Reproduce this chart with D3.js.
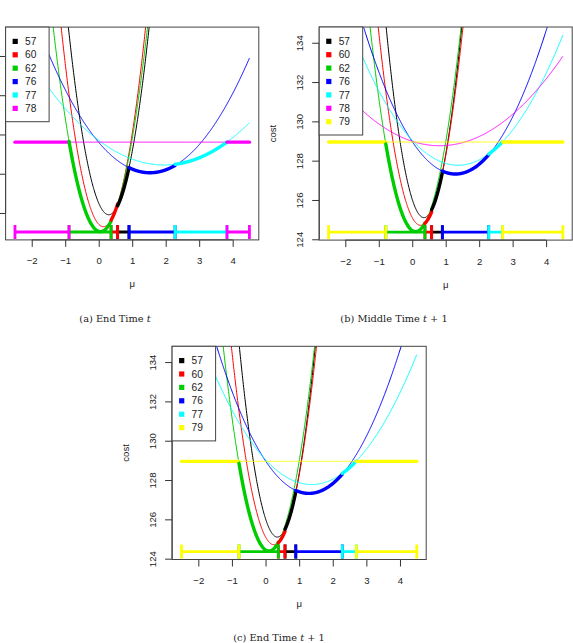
<!DOCTYPE html>
<html>
<head>
<meta charset="utf-8">
<script src="https://cdn.jsdelivr.net/npm/d3@7"></script>
<style>
  body { margin: 0; background: #fff; }
  svg { display: block; }
</style>
</head>
<body>
<svg id="fig" width="573" height="643"></svg>
<script>
// candidate change times (legend entries) and their R palette colours
const labels = [57, 60, 62, 76, 77, 78, 79];
const colors = ["#000000", "#ff0000", "#00cd00", "#0000ff", "#00ffff", "#ff00ff", "#ffff00"];

// cost curves: cost = low + curv * (mu - centre)^2, curv 0 = flat line
// end of time t (panel a), same order as labels
const centreT = [0.30, 0.14, 0.05, 1.53, 1.95, 0];
const lowT    = [125.91, 125.30, 125.05, 128.05, 128.445, 129.61];
const curvT   = [6.57, 6.40, 5.25, 0.662, 0.331, 0];
// time t+1 (panels b and c)
const centreT1 = [0.35, 0.25, 0.10, 1.29, 1.37, 0.82, 0];
const lowT1    = [125.10, 124.71, 124.39, 127.32, 127.77, 128.76, 128.95];
const curvT1   = [7.6, 6.29, 5.63, 0.993, 0.675, 0.336, 0];

// intervals of mu where each candidate is optimal
const breaksA = [-2.5, -0.886, 0.37, 0.565, 0.905, 2.28, 3.83, 4.5];
const ownerA  = [78, 62, 60, 57, 76, 77, 78];
const breaksB = [-2.5, -0.79, 0.38, 0.58, 0.9, 2.285, 2.7, 4.5];
const ownerB  = [79, 62, 60, 57, 76, 77, 79];

const xlim = [-2.5, 4.5];
const ylimA = [125.03, 135.07];
const ylimB = [124.36, 134.4];
const xTicks = [-2, -1, 0, 1, 2, 3, 4];
const yTicks = [124, 126, 128, 130, 132, 134];

const setT = {centre: centreT, low: lowT, curv: curvT};
const setT1 = {centre: centreT1, low: lowT1, curv: curvT1};

// panel a is cropped on the left in the figure: its y labels fall off the page
const panels = [
  {box: {l: 5.6, t: 27.1, r: 258.8, b: 239.9}, ylim: ylimA, par: setT, yText: false,
   shown: [57, 60, 62, 76, 77, 78], breaks: breaksA, owner: ownerA,
   cap: ["(a) End Time ", "t", ""], capX: 115, capY: 321.5},
  {box: {l: 319.2, t: 27, r: 572.2, b: 240.1}, ylim: ylimB, par: setT1, yText: true,
   shown: [57, 60, 62, 76, 77, 78, 79], breaks: breaksB, owner: ownerB,
   cap: ["(b) Middle Time ", "t", " + 1"], capX: 394, capY: 321.5},
  {box: {l: 172.1, t: 346.3, r: 426.2, b: 559.5}, ylim: ylimB, par: setT1, yText: true,
   shown: [57, 60, 62, 76, 77, 79], breaks: breaksB, owner: ownerB,
   cap: ["(c) End Time ", "t", " + 1"], capX: 279, capY: 641}
];

const sans = "'Liberation Sans', Arial, Helvetica, sans-serif";
const serif = "'DejaVu Serif', 'Liberation Serif', serif";
const svg = d3.select("#fig");
const colorOf = lab => colors[labels.indexOf(lab)];
// R extends axis ranges by 4%
const pad = lim => { const d = (lim[1] - lim[0]) * 0.04; return [lim[0] - d, lim[1] + d]; };

panels.forEach((p, pi) => {
  const x = d3.scaleLinear().domain(pad(xlim)).range([p.box.l, p.box.r]);
  const y = d3.scaleLinear().domain(pad(p.ylim)).range([p.box.b, p.box.t]);
  const g = svg.append("g");

  svg.append("clipPath").attr("id", "clip" + pi)
    .append("rect")
    .attr("x", p.box.l).attr("y", p.box.t)
    .attr("width", p.box.r - p.box.l).attr("height", p.box.b - p.box.t);

  const plot = g.append("g").attr("clip-path", `url(#clip${pi})`);

  const cost = (lab, mu) => {
    const i = labels.indexOf(lab);
    return p.par.low[i] + p.par.curv[i] * (mu - p.par.centre[i]) ** 2;
  };
  const line = d3.line().x(d => x(d[0])).y(d => y(d[1]));
  const grid = d3.range(xlim[0], xlim[1] + 1e-9, 0.01);

  // thin full curves
  p.shown.forEach(lab => {
    plot.append("path")
      .attr("d", line(grid.map(m => [m, cost(lab, m)])))
      .attr("fill", "none")
      .attr("stroke", colorOf(lab))
      .attr("stroke-width", 1);
  });

  // thick part of the lower envelope
  p.owner.forEach((lab, k) => {
    const seg = d3.range(p.breaks[k], p.breaks[k + 1], 0.01).concat([p.breaks[k + 1]]);
    plot.append("path")
      .attr("d", line(seg.map(m => [m, cost(lab, m)])))
      .attr("fill", "none")
      .attr("stroke", colorOf(lab))
      .attr("stroke-width", 3.4)
      .attr("stroke-linecap", "round");
  });

  // interval bars along the bottom, drawn in legend order
  const yb = y(p.ylim[0]);
  const order = d3.range(p.owner.length)
    .sort((i, j) => labels.indexOf(p.owner[i]) - labels.indexOf(p.owner[j]));
  order.forEach(k => {
    const c = colorOf(p.owner[k]);
    const x0 = x(p.breaks[k]), x1 = x(p.breaks[k + 1]);
    const bar = plot.append("g").attr("stroke", c).attr("stroke-width", 2.8);
    bar.append("line").attr("x1", x0).attr("x2", x1).attr("y1", yb).attr("y2", yb);
    [x0, x1].forEach(xx => {
      bar.append("line").attr("x1", xx).attr("x2", xx).attr("y1", yb - 7).attr("y2", yb + 7);
    });
  });

  // axes
  const xa = g.append("g")
    .attr("transform", `translate(0,${p.box.b})`)
    .call(d3.axisBottom(x).tickValues(xTicks).tickSize(7).tickSizeOuter(0)
      .tickFormat(d => d3.format("")(d).replace("-", "\u2212")));
  xa.select(".domain").attr("d", `M${x(xTicks[0])},0H${x(xTicks[xTicks.length - 1])}`);
  xa.selectAll("text").attr("dy", null).attr("y", 24.5);

  const yv = yTicks.filter(v => v >= y.domain()[0] && v <= y.domain()[1]);
  const ya = g.append("g")
    .attr("transform", `translate(${p.box.l},0)`)
    .call(d3.axisLeft(y).tickValues(yv).tickSize(7).tickSizeOuter(0));
  ya.select(".domain").attr("d", `M0,${y(yv[0])}V${y(yv[yv.length - 1])}`);
  if (p.yText) {
    ya.selectAll("text")
      .attr("transform", "rotate(-90)")
      .attr("x", 0).attr("y", -16).attr("dy", null)
      .attr("text-anchor", "middle");
  } else {
    ya.selectAll("text").remove();
  }

  [xa, ya].forEach(a => {
    a.attr("font-family", sans).attr("font-size", 9.6);
    a.selectAll("line, path").attr("stroke", "#333");
    a.selectAll("text").attr("fill", "#222");
  });

  g.append("rect")
    .attr("x", p.box.l).attr("y", p.box.t)
    .attr("width", p.box.r - p.box.l).attr("height", p.box.b - p.box.t)
    .attr("fill", "none").attr("stroke", "#444").attr("stroke-width", 1);

  g.append("text")
    .attr("x", (p.box.l + p.box.r) / 2).attr("y", p.box.b + 47.5)
    .attr("text-anchor", "middle")
    .attr("font-family", sans).attr("font-size", 9.6).attr("fill", "#222")
    .text("\u03bc");

  if (p.yText) {
    g.append("text")
      .attr("transform", `translate(${p.box.l - 43.5},${(p.box.t + p.box.b) / 2}) rotate(-90)`)
      .attr("text-anchor", "middle")
      .attr("font-family", sans).attr("font-size", 9.6).attr("fill", "#222")
      .text("cost");
  }

  // legend
  const n = p.shown.length;
  const lg = g.append("g").attr("transform", `translate(${p.box.l},${p.box.t})`);
  lg.append("rect")
    .attr("width", 43.5).attr("height", 13.4 * n + 14.2)
    .attr("fill", "#fff").attr("stroke", "#444").attr("stroke-width", 1);
  p.shown.forEach((lab, i) => {
    const cy = 14.3 + 13.4 * i;
    lg.append("rect")
      .attr("x", 7).attr("y", cy - 2.6).attr("width", 5.2).attr("height", 5.2)
      .attr("fill", colorOf(lab));
    lg.append("text")
      .attr("x", 19.5).attr("y", cy + 3.7)
      .attr("font-family", sans).attr("font-size", 10.2).attr("fill", "#222")
      .text(lab);
  });

  // caption under the panel
  const cap = svg.append("text")
    .attr("x", p.capX).attr("y", p.capY)
    .attr("text-anchor", "middle")
    .attr("font-family", serif).attr("font-size", 9.8).attr("fill", "#222");
  cap.append("tspan").text(p.cap[0]);
  cap.append("tspan").attr("font-style", "italic").text(p.cap[1]);
  cap.append("tspan").text(p.cap[2]);
});
</script>
</body>
</html>
